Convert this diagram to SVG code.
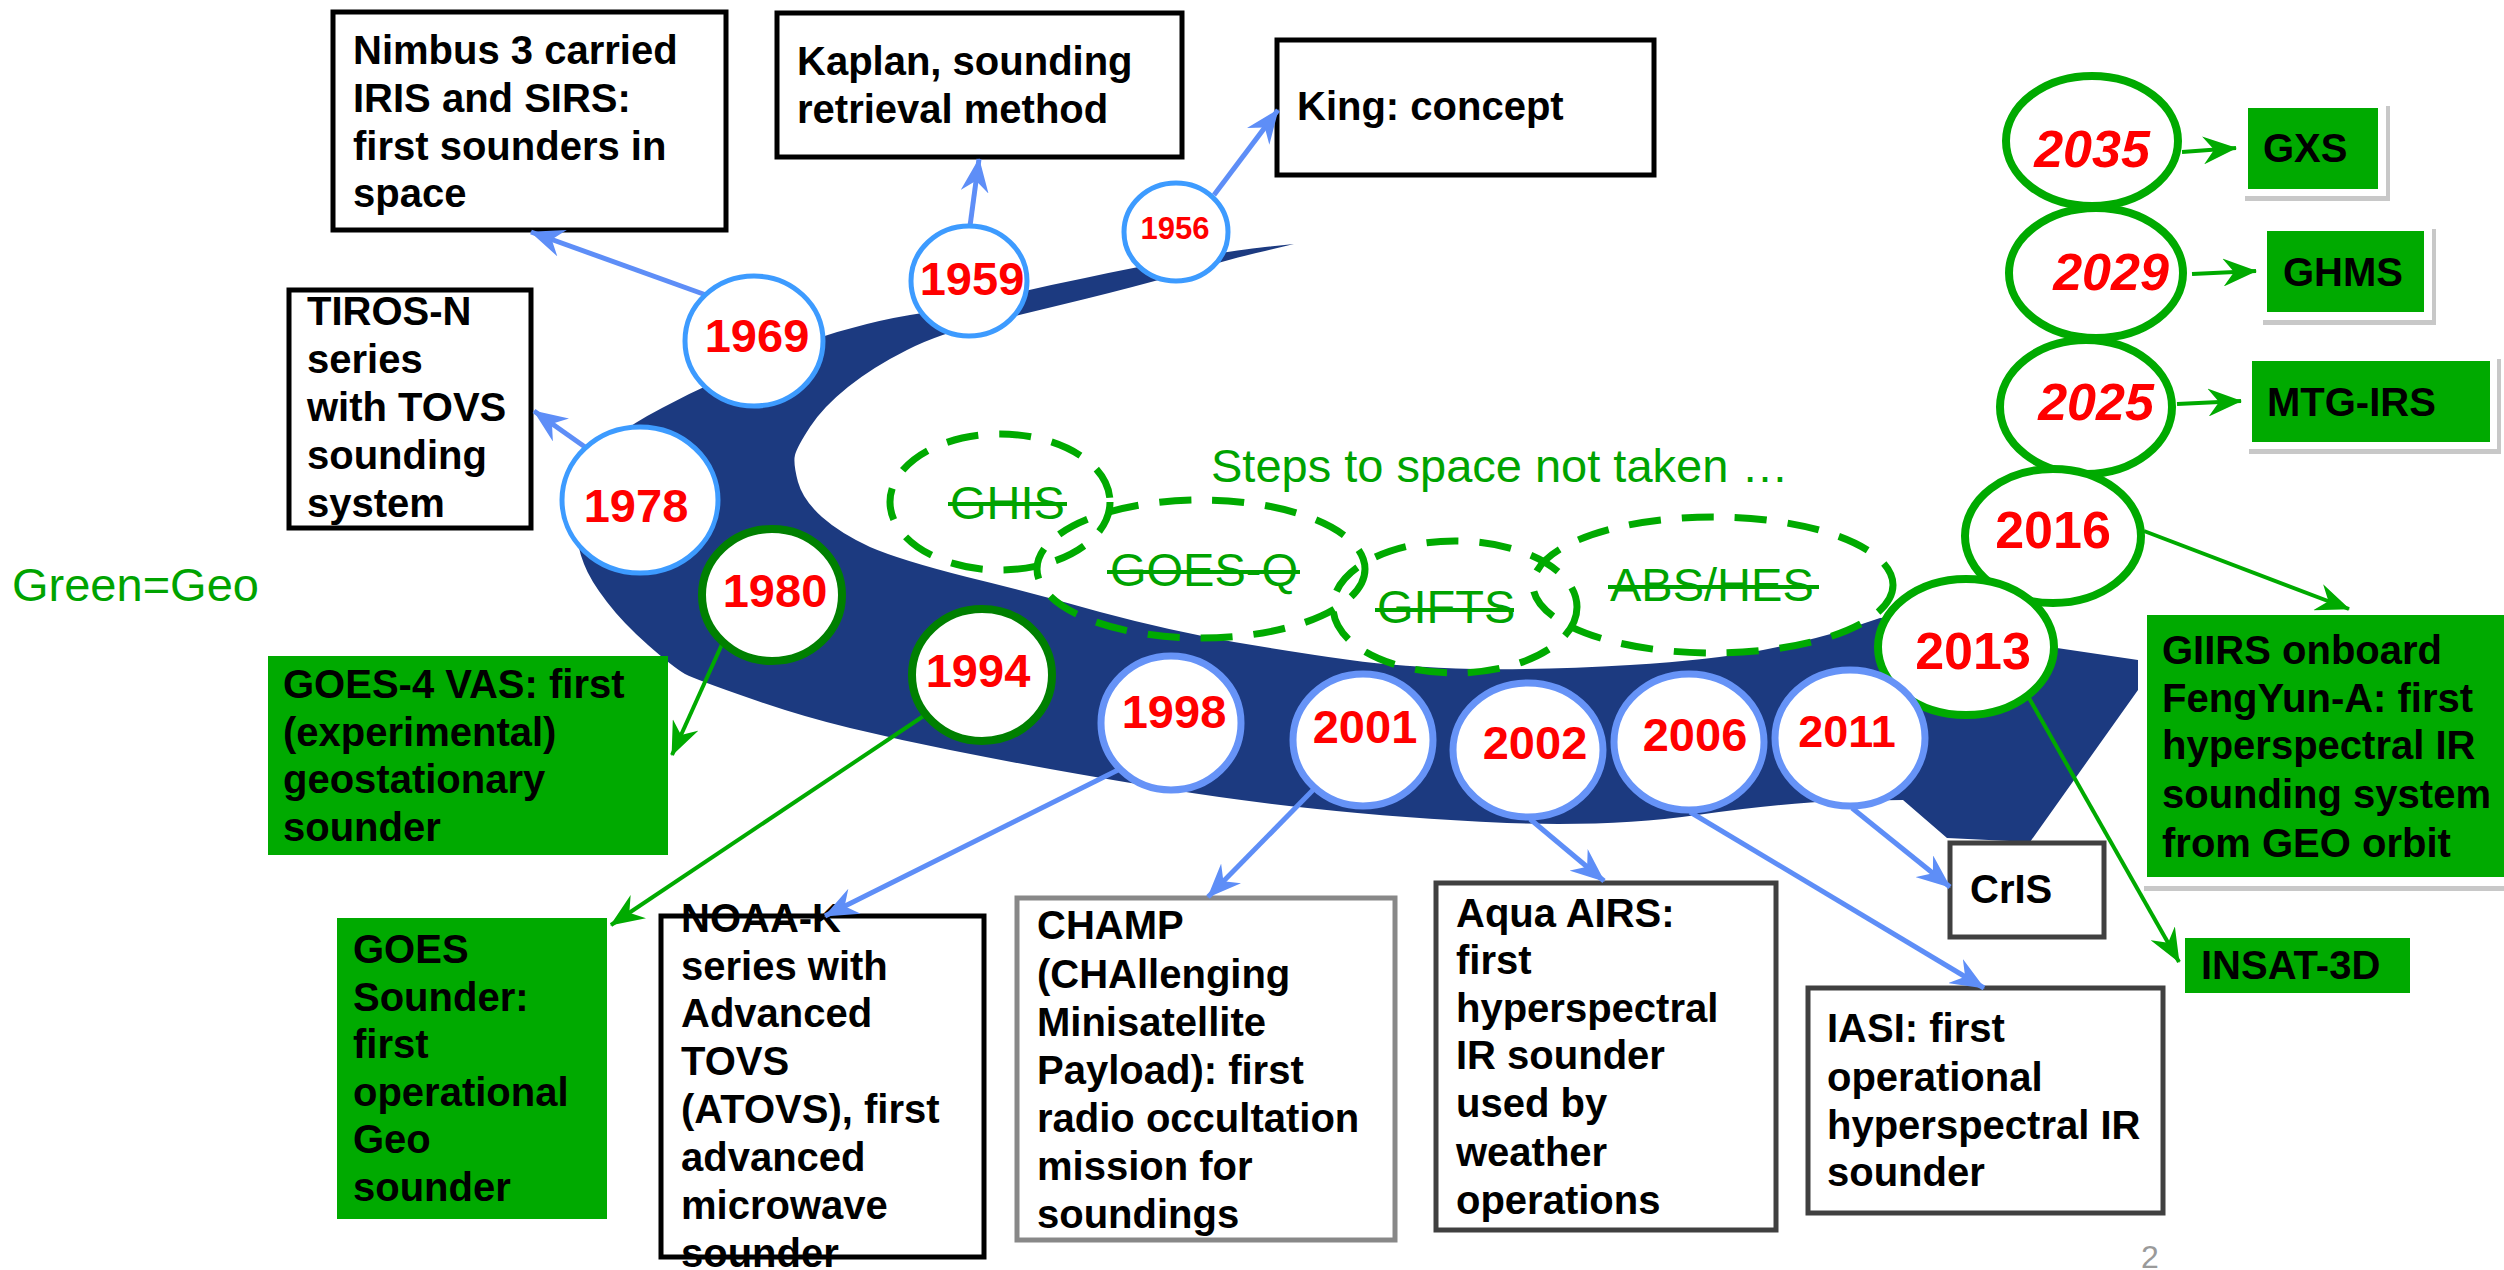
<svg xmlns="http://www.w3.org/2000/svg" width="2504" height="1270" viewBox="0 0 2504 1270">
<defs>
<style>
.bt{font-family:"Liberation Sans",Arial,sans-serif;font-weight:bold;font-size:40px;fill:#000}
.yr{font-family:"Liberation Sans",Arial,sans-serif;font-weight:bold;font-size:47px;fill:#ff0000;text-anchor:middle}
.yb{font-size:52px}
.yi{font-style:italic}
.gt{font-family:"Liberation Sans",Arial,sans-serif;font-size:47px;fill:#00a300}
.box{fill:#fff;stroke:#000;stroke-width:5}
.gbox{fill:#00aa00}
.wbox{fill:#fff}
.shd{fill:#c8c8c8}
.cb1{fill:#fff;stroke:#3d9bff;stroke-width:5}
.cb2{fill:#fff;stroke:#6693f7;stroke-width:7}
.cg1{fill:#fff;stroke:#008000;stroke-width:8}
.cg2{fill:#fff;stroke:#00aa00;stroke-width:8}
.dash{fill:none;stroke:#00aa00;stroke-width:7;stroke-dasharray:32 21}
.strike{stroke:#00a300;stroke-width:4}
.lb{fill:none;stroke:#5e8ef7;stroke-width:5;marker-end:url(#ab)}
.lg{fill:none;stroke:#00aa00;stroke-width:4;marker-end:url(#ag)}
</style>
<marker id="ab" markerUnits="userSpaceOnUse" markerWidth="34" markerHeight="28" viewBox="0 0 34 28" refX="33" refY="14" orient="auto"><path d="M34,14 L0,0 L11,14 L0,28 Z" fill="#5e8ef7"/></marker>
<marker id="ag" markerUnits="userSpaceOnUse" markerWidth="34" markerHeight="28" viewBox="0 0 34 28" refX="33" refY="14" orient="auto"><path d="M34,14 L0,0 L11,14 L0,28 Z" fill="#00aa00"/></marker>
</defs>
<rect width="2504" height="1270" fill="#fff"/>

<g id="band">
<path fill="#1c3a80" d="M1294,244 L1265,247 Q1237,250 1183,259 Q1130,268 1085,278 Q1040,287 990,299 Q940,310 910,315 Q880,320 852,328 Q823,335 785,351 Q747,367 719,380 Q690,393 662,408 Q633,423 614,438 Q595,452 584,474 Q572,495 575,521 Q577,547 584,564 Q590,580 607,602 Q623,623 648,645 Q673,667 685,674 Q697,680 749,698 Q800,716 850,728 Q900,740 950,750 Q1000,760 1050,769 Q1100,778 1167,789 Q1233,800 1317,809 Q1400,818 1507,823 Q1613,827 1697,815 Q1780,803 1840,801 L1903,800 L1947,838 L2030,842 L2138,690 L2138,660 L2057,648 L1960,612 L1880,618 L1847,629 Q1813,640 1763,650 Q1713,660 1630,665 Q1547,670 1474,669 Q1400,667 1350,660 Q1300,653 1234,642 Q1167,630 1100,612 Q1033,593 967,577 Q900,560 870,547 Q840,533 822,517 Q803,500 798,482 Q793,463 795,455 Q797,447 810,427 Q823,407 848,387 Q873,367 907,350 Q940,333 990,322 Q1040,310 1085,299 Q1130,288 1184,273 Q1237,257 1265,251 Z"/>
</g>

<g id="not-taken">
<ellipse class="dash" cx="1000" cy="502" rx="110" ry="68"/>
<ellipse class="dash" cx="1201" cy="569" rx="164" ry="69"/>
<ellipse class="dash" cx="1455" cy="607" rx="122" ry="66"/>
<ellipse class="dash" cx="1713" cy="585" rx="180" ry="68"/>
<text class="gt" x="950" y="519">GHIS</text>
<line class="strike" x1="948" y1="504" x2="1067" y2="504"/>
<text class="gt" x="1110" y="586">GOES-Q</text>
<line class="strike" x1="1107" y1="572" x2="1300" y2="572"/>
<text class="gt" x="1377" y="623">GIFTS</text>
<line class="strike" x1="1375" y1="610" x2="1514" y2="610"/>
<text class="gt" x="1610" y="601">ABS/HES</text>
<line class="strike" x1="1608" y1="587" x2="1819" y2="587"/>
<text class="gt" x="1211" y="482">Steps to space not taken …</text>
</g>

<g id="legend"><text class="gt" x="12" y="601">Green=Geo</text></g>

<g id="n-nimbus"><rect class="box" x="333" y="12" width="393" height="218"/>
<text class="bt" x="353" y="64">Nimbus 3 carried</text><text class="bt" x="353" y="112">IRIS and SIRS:</text><text class="bt" x="353" y="160">first sounders in</text><text class="bt" x="353" y="207">space</text></g>
<g id="n-kaplan"><rect class="box" x="777" y="13" width="405" height="144"/>
<text class="bt" x="797" y="75">Kaplan, sounding</text><text class="bt" x="797" y="123">retrieval method</text></g>
<g id="n-king"><rect class="box" x="1277" y="40" width="377" height="135"/>
<text class="bt" x="1297" y="120">King: concept</text></g>
<g id="n-tiros"><rect class="box" x="289" y="290" width="242" height="238"/>
<text class="bt" x="307" y="325">TIROS-N</text><text class="bt" x="307" y="373">series</text><text class="bt" x="307" y="421">with TOVS</text><text class="bt" x="307" y="469">sounding</text><text class="bt" x="307" y="517">system</text></g>
<g id="n-goes4"><rect class="gbox" x="268" y="656" width="400" height="199"/>
<text class="bt" x="283" y="698">GOES-4 VAS: first</text><text class="bt" x="283" y="746">(experimental)</text><text class="bt" x="283" y="793">geostationary</text><text class="bt" x="283" y="841">sounder</text></g>
<g id="n-goessounder"><rect class="gbox" x="337" y="918" width="270" height="301"/>
<text class="bt" x="353" y="963">GOES</text><text class="bt" x="353" y="1011">Sounder:</text><text class="bt" x="353" y="1058">first</text><text class="bt" x="353" y="1106">operational</text><text class="bt" x="353" y="1153">Geo</text><text class="bt" x="353" y="1201">sounder</text></g>
<g id="n-noaak"><rect class="box" x="661" y="916" width="323" height="341"/>
<text class="bt" x="681" y="932">NOAA-K</text><text class="bt" x="681" y="980">series with</text><text class="bt" x="681" y="1027">Advanced</text><text class="bt" x="681" y="1075">TOVS</text><text class="bt" x="681" y="1123">(ATOVS), first</text><text class="bt" x="681" y="1171">advanced</text><text class="bt" x="681" y="1219">microwave</text><text class="bt" x="681" y="1267">sounder</text></g>
<g id="n-champ"><rect class="box" style="stroke:#888" x="1017" y="898" width="378" height="342"/>
<text class="bt" x="1037" y="939">CHAMP</text><text class="bt" x="1037" y="988">(CHAllenging</text><text class="bt" x="1037" y="1036">Minisatellite</text><text class="bt" x="1037" y="1084">Payload): first</text><text class="bt" x="1037" y="1132">radio occultation</text><text class="bt" x="1037" y="1180">mission for</text><text class="bt" x="1037" y="1228">soundings</text></g>
<g id="n-aqua"><rect class="box" style="stroke:#404040" x="1436" y="883" width="340" height="347"/>
<text class="bt" x="1456" y="927">Aqua AIRS:</text><text class="bt" x="1456" y="974">first</text><text class="bt" x="1456" y="1022">hyperspectral</text><text class="bt" x="1456" y="1069">IR sounder</text><text class="bt" x="1456" y="1117">used by</text><text class="bt" x="1456" y="1166">weather</text><text class="bt" x="1456" y="1214">operations</text></g>
<g id="n-cris"><rect class="box" style="stroke:#404040" x="1950" y="843" width="154" height="94"/>
<text class="bt" x="1970" y="903">CrIS</text></g>
<g id="n-iasi"><rect class="box" style="stroke:#404040" x="1808" y="988" width="355" height="225"/>
<text class="bt" x="1827" y="1042">IASI: first</text><text class="bt" x="1827" y="1091">operational</text><text class="bt" x="1827" y="1139">hyperspectral IR</text><text class="bt" x="1827" y="1186">sounder</text></g>
<g id="n-giirs"><rect class="shd" x="2144" y="613" width="370" height="278"/><rect class="wbox" x="2140" y="608" width="370" height="278"/><rect class="gbox" x="2147" y="615" width="360" height="262"/>
<text class="bt" x="2162" y="664">GIIRS onboard</text><text class="bt" x="2162" y="712">FengYun-A: first</text><text class="bt" x="2162" y="759">hyperspectral IR</text><text class="bt" x="2162" y="808">sounding system</text><text class="bt" x="2162" y="857">from GEO orbit</text></g>
<g id="n-insat"><rect class="gbox" x="2185" y="938" width="225" height="55"/>
<text class="bt" x="2201" y="979">INSAT-3D</text></g>
<g id="n-gxs"><rect class="shd" x="2245" y="106" width="145" height="95"/><rect class="wbox" x="2241" y="101" width="145" height="95"/><rect class="gbox" x="2248" y="108" width="130" height="81"/>
<text class="bt" x="2263" y="162">GXS</text></g>
<g id="n-ghms"><rect class="shd" x="2263" y="229" width="173" height="96"/><rect class="wbox" x="2259" y="224" width="173" height="96"/><rect class="gbox" x="2267" y="231" width="157" height="81"/>
<text class="bt" x="2283" y="286">GHMS</text></g>
<g id="n-mtgirs"><rect class="shd" x="2249" y="359" width="252" height="95"/><rect class="wbox" x="2245" y="354" width="252" height="95"/><rect class="gbox" x="2252" y="361" width="238" height="81"/>
<text class="bt" x="2267" y="416">MTG-IRS</text></g>

<g id="connectors">
<line class="lb" x1="706" y1="295" x2="531" y2="232"/>
<line class="lb" x1="585" y1="447" x2="534" y2="411"/>
<line class="lb" x1="970" y1="226" x2="979" y2="159"/>
<line class="lb" x1="1214" y1="195" x2="1278" y2="110"/>
<line class="lb" x1="1118" y1="770" x2="825" y2="916"/>
<line class="lb" x1="1313" y1="790" x2="1208" y2="897"/>
<line class="lb" x1="1530" y1="819" x2="1604" y2="881"/>
<line class="lb" x1="1690" y1="812" x2="1984" y2="988"/>
<line class="lb" x1="1852" y1="808" x2="1950" y2="887"/>
<line class="lg" x1="723" y1="642" x2="672" y2="755"/>
<line class="lg" x1="928" y1="713" x2="611" y2="925"/>
<line class="lg" x1="2029" y1="698" x2="2179" y2="962"/>
<line class="lg" x1="2144" y1="531" x2="2349" y2="609"/>
<line class="lg" x1="2182" y1="152" x2="2236" y2="148"/>
<line class="lg" x1="2192" y1="274" x2="2256" y2="271"/>
<line class="lg" x1="2177" y1="404" x2="2241" y2="401"/>
</g>

<g id="y1956"><ellipse class="cb1" cx="1176" cy="232" rx="52" ry="49"/><text class="yr" style="font-size:31px" x="1175" y="239">1956</text></g>
<g id="y1959"><ellipse class="cb1" cx="969" cy="281" rx="58" ry="55"/><text class="yr" x="972" y="295">1959</text></g>
<g id="y1969"><ellipse class="cb1" cx="754" cy="341" rx="69" ry="65"/><text class="yr" x="757" y="352">1969</text></g>
<g id="y1978"><ellipse class="cb1" cx="640" cy="500" rx="78" ry="73"/><text class="yr" x="636" y="522">1978</text></g>
<g id="y1980"><ellipse class="cg1" cx="772" cy="595" rx="70" ry="66"/><text class="yr" x="775" y="607">1980</text></g>
<g id="y1994"><ellipse class="cg1" cx="982" cy="675" rx="70" ry="66"/><text class="yr" x="978" y="687">1994</text></g>
<g id="y1998"><ellipse class="cb2" cx="1171" cy="723" rx="70" ry="67"/><text class="yr" x="1174" y="728">1998</text></g>
<g id="y2001"><ellipse class="cb2" cx="1363" cy="740" rx="70" ry="66"/><text class="yr" x="1365" y="743">2001</text></g>
<g id="y2002"><ellipse class="cb2" cx="1528" cy="750" rx="75" ry="67"/><text class="yr" x="1535" y="759">2002</text></g>
<g id="y2006"><ellipse class="cb2" cx="1689" cy="742" rx="75" ry="68"/><text class="yr" x="1695" y="751">2006</text></g>
<g id="y2035"><ellipse class="cg2" cx="2092" cy="141" rx="86" ry="65"/><text class="yr yb yi" x="2092" y="167">2035</text></g>
<g id="y2029"><ellipse class="cg2" cx="2096" cy="273" rx="87" ry="65"/><text class="yr yb yi" x="2111" y="290">2029</text></g>
<g id="y2025"><ellipse class="cg2" cx="2086" cy="407" rx="86" ry="67"/><text class="yr yb yi" x="2096" y="420">2025</text></g>
<g id="y2016"><ellipse class="cg2" cx="2053" cy="536" rx="88" ry="67"/><text class="yr yb" x="2053" y="548">2016</text></g>
<g id="y2013"><ellipse class="cg2" cx="1966" cy="647" rx="88" ry="68"/><text class="yr yb" x="1973" y="669">2013</text></g>
<g id="y2011"><ellipse class="cb2" cx="1850" cy="738" rx="75" ry="68"/><text class="yr" style="font-size:45px" x="1847" y="747">2011</text></g>

<g id="page"><text x="2141" y="1268" style="font-family:'Liberation Sans',Arial,sans-serif;font-size:32px;fill:#9a9a9a">2</text></g>
</svg>
